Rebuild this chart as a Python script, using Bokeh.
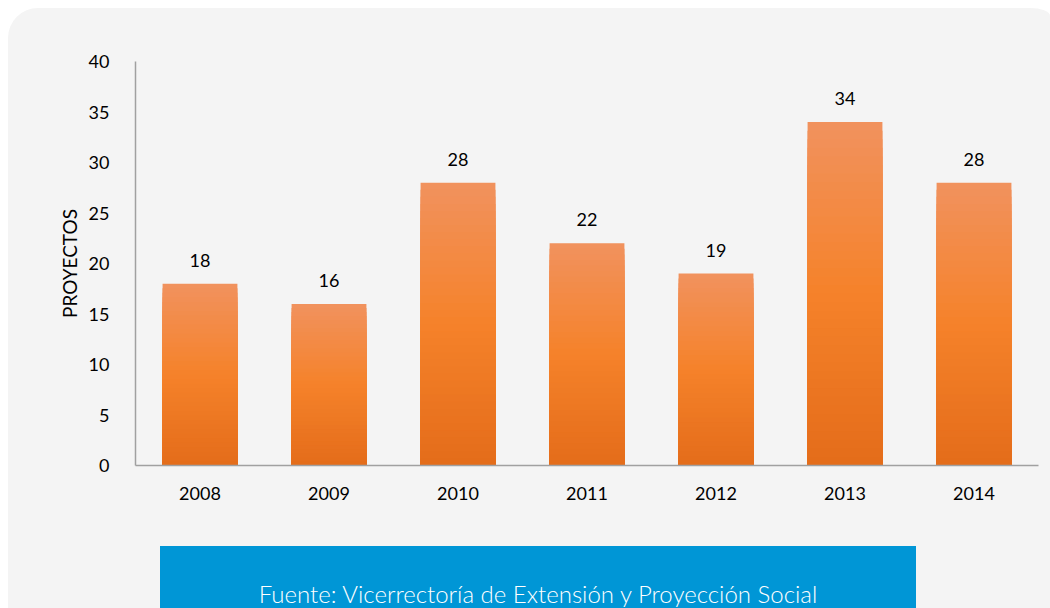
from bokeh.plotting import figure
from bokeh.models import ColumnDataSource, Div
from bokeh.layouts import column
from bokeh.embed import file_html
from bokeh.resources import INLINE
from bokeh.core.properties import value

years = ["2008", "2009", "2010", "2011", "2012", "2013", "2014"]
proyectos = [18, 16, 28, 22, 19, 34, 28]
y_ticks = [0, 5, 10, 15, 20, 25, 30, 35, 40]
y_label = "PROYECTOS"
source_text = "Fuente: Vicerrectoría de Extensión y Proyección Social"

BG = "#f4f4f4"
TOP = (241, 146, 94)
MID = (245, 130, 42)
BOT = (228, 108, 26)

def lerp(a, b, t):
    return tuple(int(round(a[i] + (b[i] - a[i]) * t)) for i in range(3))

def grad(t):  # t: 0 bottom -> 1 top
    if t < 0.5:
        c = lerp(BOT, MID, t / 0.5)
    else:
        c = lerp(MID, TOP, (t - 0.5) / 0.5)
    return "#%02x%02x%02x" % c

# gradient: overlapping bars, tallest (top colour) first, shorter on top
N = 40
xs, tops, colors = [], [], []
for i in range(N, 0, -1):
    for yr, v in zip(years, proyectos):
        xs.append(yr)
        tops.append(v * i / N)
        colors.append(grad((i - 0.5) / N))

seg = ColumnDataSource(dict(x=xs, top=tops, color=colors))
lab = ColumnDataSource(dict(x=years, y=proyectos, t=[str(v) for v in proyectos]))

p = figure(x_range=years, y_range=(0, 40), width=1042, height=530,
           output_backend="svg", toolbar_location=None,
           min_border_left=127, min_border_right=12, min_border_top=53,
           min_border_bottom=73)
p.background_fill_color = None
p.border_fill_color = None
p.outline_line_color = None
p.grid.grid_line_color = None

p.vbar(x="x", bottom=0, top="top", width=0.58, source=seg,
       fill_color="color", line_color=None)

p.text(x="x", y="y", text="t", source=lab, text_align="center",
       text_baseline="bottom", y_offset=-17, text_font=value("Lato"),
       text_font_size="18px", text_color="#000000")

p.yaxis.ticker = y_ticks
p.yaxis.axis_label = y_label
p.yaxis.axis_label_text_font = "Lato"
p.yaxis.axis_label_text_font_style = "normal"
p.yaxis.axis_label_text_font_size = "19px"
p.yaxis.axis_label_text_color = "#000000"
p.yaxis.axis_label_standoff = 5
p.axis.major_label_text_font = "Lato"
p.axis.major_label_text_font_size = "18px"
p.axis.major_label_text_color = "#000000"
p.axis.axis_line_color = "#a0a0a0"
p.axis.axis_line_width = 1.5
p.axis.major_tick_line_color = None
p.axis.minor_tick_line_color = None
p.yaxis.major_label_standoff = 20
p.xaxis.major_label_standoff = 15

div = Div(text=f'<div style="width:756px;height:62px;background:#0096d6;'
               f'color:#ffffff;font-family:Lato;font-weight:300;font-size:24px;'
               f'text-align:center;line-height:1;box-sizing:border-box;padding-top:36px;'
               f'white-space:nowrap;">'
               f'{source_text}</div>',
          width=756, height=62, margin=(8, 0, 0, 152))

layout = column(p, div, spacing=0)
layout.styles = {"background-color": BG,
                 "border-radius": "30px 20px 0 0 / 30px 8px 0 0"}
layout.width = 1042
layout.margin = (8, 0, 0, 8)

open("out.html", "w").write(file_html(layout, INLINE))
